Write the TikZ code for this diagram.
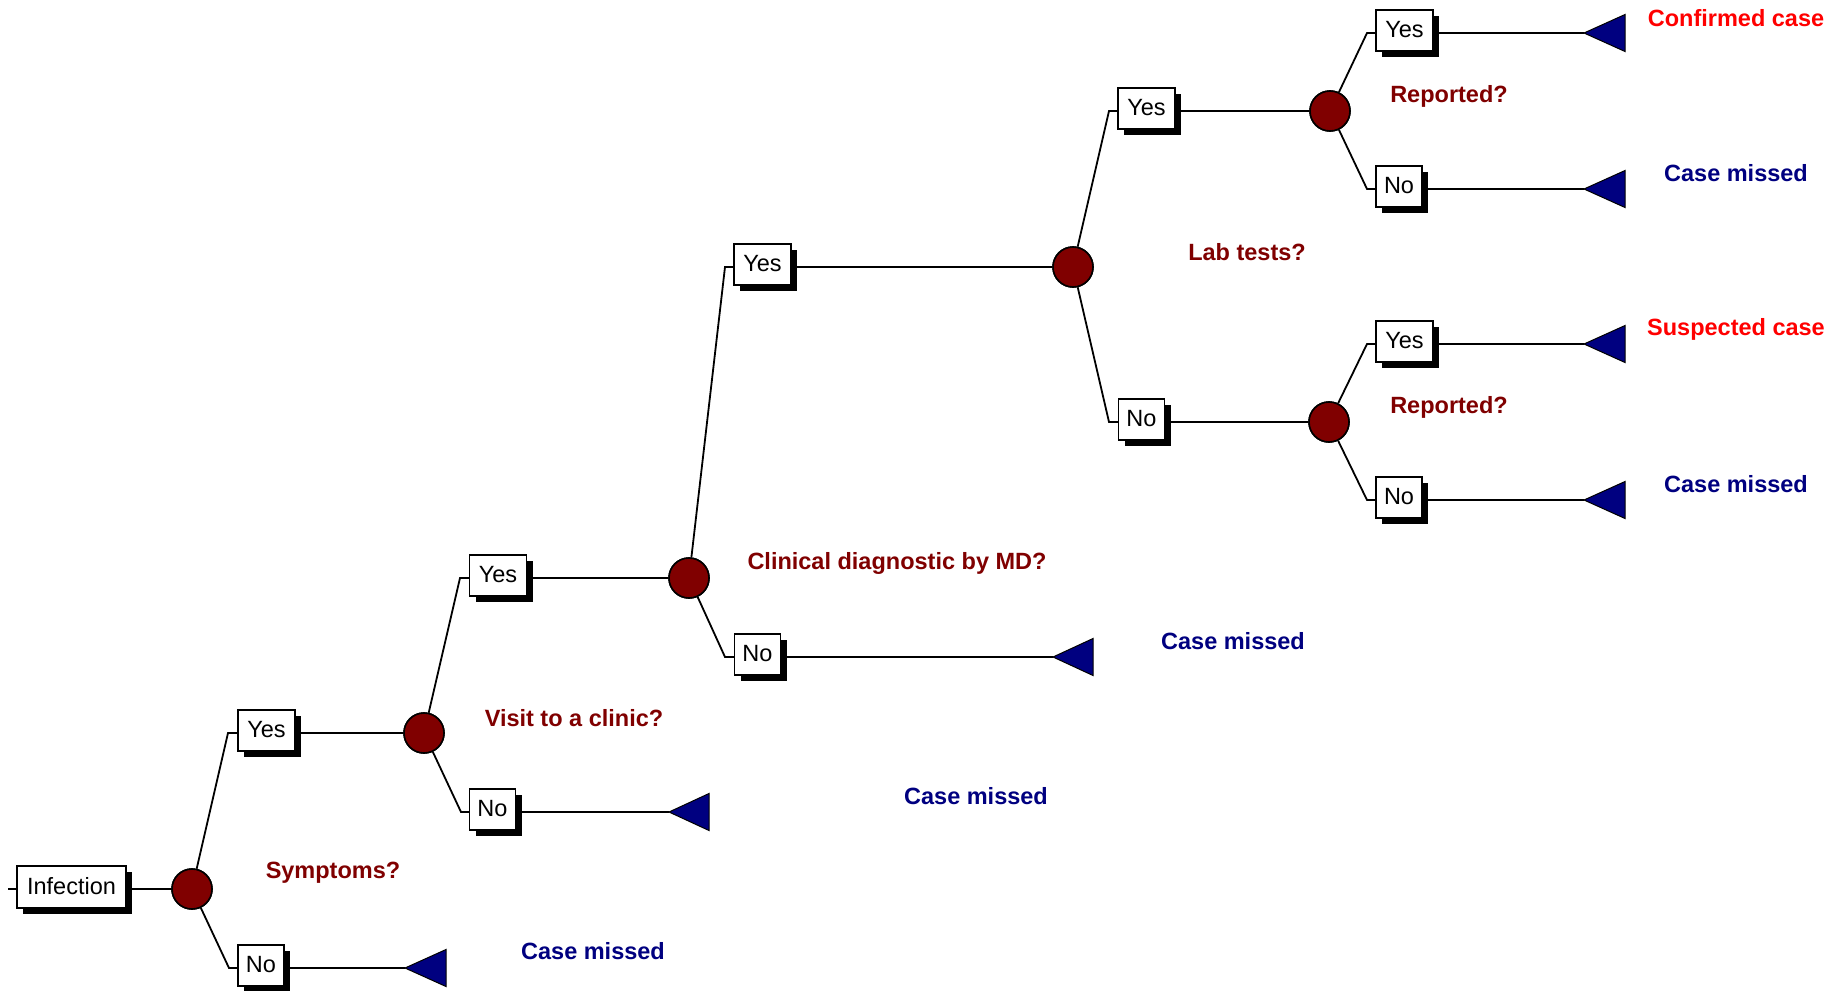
\documentclass[tikz,border=0pt]{standalone}
\usepackage{fontspec}
\setmainfont{Liberation Sans}
\usetikzlibrary{shadows}
\definecolor{chance}{HTML}{800000}
\definecolor{leaf}{HTML}{000080}
\definecolor{hit}{HTML}{FF0000}

\begin{document}
\begin{tikzpicture}[x=1pt,y=-1pt,
  edge/.style={line width=1.8pt},
  choice/.style={draw, line width=1.4pt, fill=white, inner sep=0pt,
    minimum height=41pt, font=\fontsize{23.5}{26}\selectfont,
    drop shadow={shadow xshift=6pt, shadow yshift=-6pt, opacity=1, fill=black}},
  yesbox/.style={choice, minimum width=57pt},
  nobox/.style={choice, minimum width=46pt},
  chancenode/.style={circle, draw, line width=1.6pt, fill=chance,
    minimum size=40pt, inner sep=0pt},
  endtri/.style={draw, line width=1pt, fill=leaf},
  lbl/.style={font=\bfseries\fontsize{23.5}{26}\selectfont, inner sep=0pt},
  q/.style={lbl, text=chance},
  miss/.style={lbl, text=leaf},
  found/.style={lbl, text=hit}]

\fill[white] (0,0) rectangle (1843,990);
\useasboundingbox (0,0) rectangle (1843,990);

% ---- decision boxes ----
\node[choice, minimum width=109pt, minimum height=42pt] (inf) at (71.5,887) {\raisebox{1.5pt}{Infection}};
\node[yesbox] (y1) at (266.5,730.5) {\raisebox{1.5pt}{Yes}};
\node[nobox]  (n1) at (261,965.5) {\raisebox{1.5pt}{No}};
\node[yesbox] (y2) at (498,575.5) {\raisebox{1.5pt}{Yes}};
\node[nobox]  (n2) at (492.5,809.5) {\raisebox{1.5pt}{No}};
\node[yesbox] (y3) at (762.5,264.5) {\raisebox{1.5pt}{Yes}};
\node[nobox]  (n3) at (757.5,654.5) {\raisebox{1.5pt}{No}};
\node[yesbox] (y4) at (1146.5,108.5) {\raisebox{1.5pt}{Yes}};
\node[nobox]  (n4) at (1141.5,419.5) {\raisebox{1.5pt}{No}};
\node[yesbox] (y5) at (1404.5,30.5) {\raisebox{1.5pt}{Yes}};
\node[nobox]  (n5) at (1399,186.5) {\raisebox{1.5pt}{No}};
\node[yesbox] (y6) at (1404.5,341.5) {\raisebox{1.5pt}{Yes}};
\node[nobox]  (n6) at (1399,497.5) {\raisebox{1.5pt}{No}};

% ---- chance nodes ----
\node[chancenode] (c1) at (192,889) {};
\node[chancenode] (c2) at (424,733) {};
\node[chancenode] (c3) at (689,578) {};
\node[chancenode] (c4) at (1073,267) {};
\node[chancenode] (c5) at (1330,111) {};
\node[chancenode] (c6) at (1329,422) {};

% ---- branch elbows ----
\coordinate (s0) at (8,889);
\coordinate (ky1) at (228,733);
\coordinate (kn1) at (229,968);
\coordinate (ky2) at (460,578);
\coordinate (kn2) at (461,812);
\coordinate (ky3) at (725,267);
\coordinate (kn3) at (725,657);
\coordinate (ky4) at (1109,111);
\coordinate (kn4) at (1109,422);
\coordinate (ky5) at (1367,33);
\coordinate (kn5) at (1367,189);
\coordinate (ky6) at (1367,344);
\coordinate (kn6) at (1367,500);

% ---- terminal points (triangle tips) ----
\coordinate (t1) at (405,968);
\coordinate (t2) at (669,812);
\coordinate (t3) at (1053,657);
\coordinate (t4) at (1584,33);
\coordinate (t5) at (1584,189);
\coordinate (t6) at (1584,344);
\coordinate (t7) at (1584,500);

% ---- connectors ----
\begin{scope}[edge]
  \draw (s0) -- (s0 -| inf.west);
  \draw (inf.east |- c1) -- (c1);
  \draw (c1) -- (ky1) -- (ky1 -| y1.west);
  \draw (c1) -- (kn1) -- (kn1 -| n1.west);
  \draw (y1.east |- ky1) -- (c2);
  \draw (n1.east |- kn1) -- (t1);
  \draw (c2) -- (ky2) -- (ky2 -| y2.west);
  \draw (c2) -- (kn2) -- (kn2 -| n2.west);
  \draw (y2.east |- ky2) -- (c3);
  \draw (n2.east |- kn2) -- (t2);
  \draw (c3) -- (ky3) -- (ky3 -| y3.west);
  \draw (c3) -- (kn3) -- (kn3 -| n3.west);
  \draw (y3.east |- ky3) -- (c4);
  \draw (n3.east |- kn3) -- (t3);
  \draw (c4) -- (ky4) -- (ky4 -| y4.west);
  \draw (c4) -- (kn4) -- (kn4 -| n4.west);
  \draw (y4.east |- ky4) -- (c5);
  \draw (n4.east |- kn4) -- (c6);
  \draw (c5) -- (ky5) -- (ky5 -| y5.west);
  \draw (c5) -- (kn5) -- (kn5 -| n5.west);
  \draw (c6) -- (ky6) -- (ky6 -| y6.west);
  \draw (c6) -- (kn6) -- (kn6 -| n6.west);
  \draw (y5.east |- ky5) -- (t4);
  \draw (n5.east |- kn5) -- (t5);
  \draw (y6.east |- ky6) -- (t6);
  \draw (n6.east |- kn6) -- (t7);
\end{scope}

% ---- terminal triangles ----
\foreach \t/\w in {t1/41,t2/40,t3/40,t4/41,t5/41,t6/41,t7/41}{
  \draw[endtri] (\t) -- ++(\w,-18.5) -- ++(0,37) -- cycle;
}

% ---- chance nodes drawn over connector ends ----
\foreach \c in {c1,c2,c3,c4,c5,c6}{
  \node[chancenode] at (\c) {};
}

% ---- labels ----
\node[q] (l1) at (333,873) {Symptoms?};
\node[miss] (m1) at (593,951) {Case missed};
\node[q] (l2) at (574,718) {Visit to a clinic?};
\node[miss] (m2) at (976,796) {Case missed};
\node[q] (l3) at (897,563) {Clinical diagnostic by MD?};
\node[miss] (m3) at (1233,641) {Case missed};
\node[q] (l4) at (1247,252) {Lab tests?};
\node[q] (l5) at (1449,96) {Reported?};
\node[found] (f1) at (1736,18) {Confirmed case};
\node[miss] (m4) at (1736,173) {Case missed};
\node[q] (l6) at (1449,407) {Reported?};
\node[found] (f2) at (1736,329) {Suspected case};
\node[miss] (m5) at (1736,484) {Case missed};
\end{tikzpicture}
\end{document}
